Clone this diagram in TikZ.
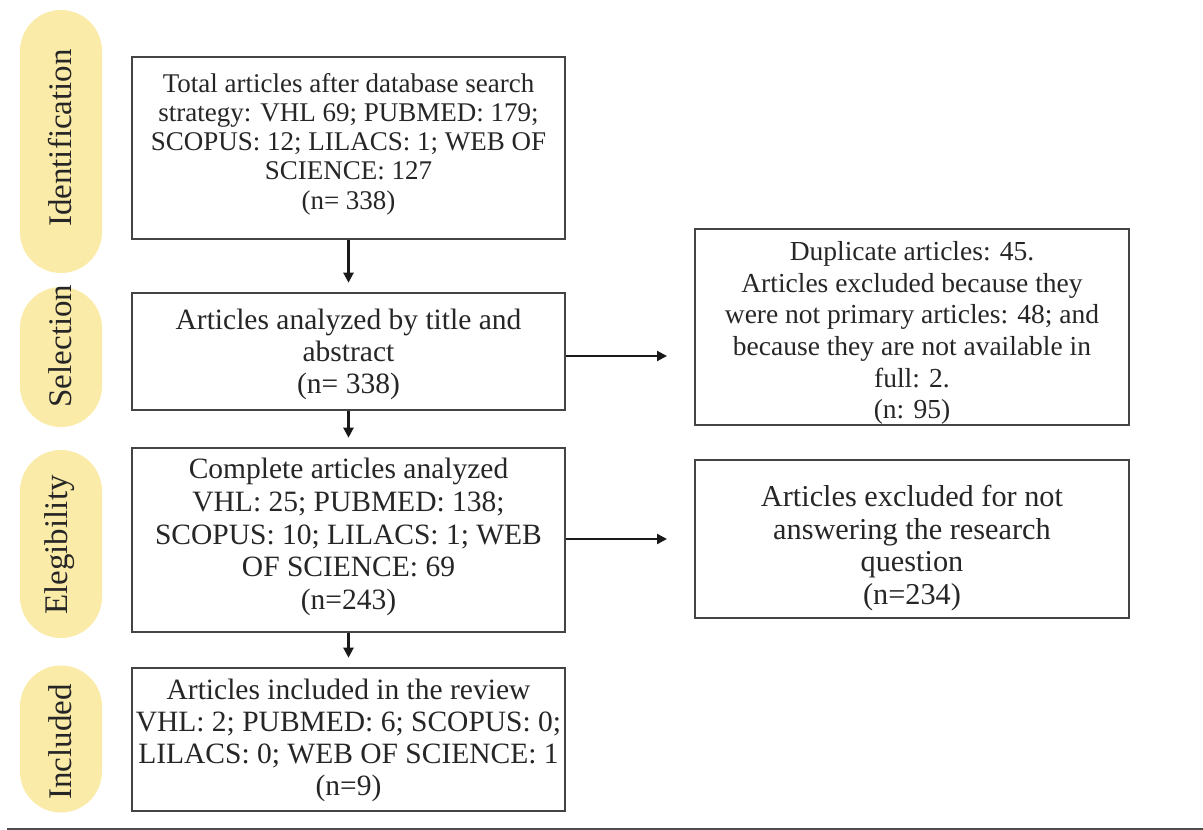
\documentclass[tikz,border=0pt]{standalone}
\usepackage{fontspec}
\setmainfont{Liberation Serif}
\usetikzlibrary{arrows.meta}
\definecolor{pillfill}{HTML}{FBEBA8}
\definecolor{txt}{HTML}{262626}
\definecolor{boxline}{HTML}{444444}
\tikzset{
  frame/.style={draw=boxline, line width=2.6pt, fill=white, rectangle, minimum width=433pt, inner sep=0pt},
  boxtext/.style={align=center, inner sep=0pt, text=txt, font=\fontsize{29.5}{31.8}\selectfont},
  pill/.style={fill=pillfill, rounded corners=41pt, minimum width=82pt, inner sep=0pt},
  pilltext/.style={rotate=90, text=txt, inner sep=0pt, font=\fontsize{33}{36}\selectfont},
  flow/.style={draw=black!90, line width=2.2pt, -{Triangle[length=10pt,width=10pt]}},
  downflow/.style={flow, shorten >=9pt},
}
\begin{document}
\begin{tikzpicture}[x=1pt,y=-1pt]
\useasboundingbox (0,0) rectangle (1203,830);
% stage pills
\node[pill, minimum height=263pt] (p1) at (61,141.5) {};
\node[pill, minimum height=140pt] (p2) at (61,357) {};
\node[pill, minimum height=188pt] (p3) at (61,544) {};
\node[pill, minimum height=147pt] (p4) at (61,739) {};
\node[pilltext] (l1) at (60,138) {Identification};
\node[pilltext] (l2) at (60,346) {Selection};
\node[pilltext] (l3) at (60,545) {Elegibility};
\node[pilltext] (l4) at (60,742) {Included};
% main boxes
\node[frame, minimum height=182pt] (b1) at (348.5,148) {};
\node[boxtext, font=\fontsize{27}{29.3}\selectfont] (t1) at ([yshift=4pt]b1.center) {Total articles after database search\\strategy: VHL 69; PUBMED: 179;\\SCOPUS: 12; LILACS: 1; WEB OF\\SCIENCE: 127\\(n= 338)};
\node[frame, minimum height=117pt] (b2) at (348.5,351.5) {};
\node[boxtext] (t2) at ([yshift=-3pt]b2.center) {Articles analyzed by title and\\abstract\\(n= 338)};
\node[frame, minimum height=184pt] (b3) at (348.5,540) {};
\node[boxtext, font=\fontsize{29.5}{32.8}\selectfont] (t3) at ([yshift=3pt]b3.center) {Complete articles analyzed\\VHL: 25; PUBMED: 138;\\SCOPUS: 10; LILACS: 1; WEB\\OF SCIENCE: 69\\(n=243)};
\node[frame, minimum height=143pt] (b4) at (348.5,739.5) {};
\node[boxtext] (t4) at ([yshift=-1pt]b4.center) {Articles included in the review\\VHL: 2; PUBMED: 6; SCOPUS: 0;\\LILACS: 0; WEB OF SCIENCE: 1\\(n=9)};
% side boxes
\node[frame, minimum width=434pt, minimum height=196pt] (r1) at (912,327) {};
\node[boxtext, font=\fontsize{27.5}{31.6}\selectfont] (t5) at ([yshift=-6pt]r1.center) {Duplicate articles: 45.\\Articles excluded because they\\were not primary articles: 48; and\\because they are not available in\\full: 2.\\(n: 95)};
\node[frame, minimum width=434pt, minimum height=158pt] (r2) at (912,539) {};
\node[boxtext, font=\fontsize{30.3}{32.7}\selectfont] (t6) at ([yshift=-9pt]r2.center) {Articles excluded for not\\answering the research\\question\\(n=234)};
% connectors
\coordinate (e1) at (667,356);
\coordinate (e2) at (667,539);
\draw[downflow] (b1.south) -- (b2.north);
\draw[downflow] (b2.south) -- (b3.north);
\draw[downflow] (b3.south) -- (b4.north);
\draw[flow] (b2.east |- e1) -- (e1);
\draw[flow] (b3.east |- e2) -- (e2);
% bottom rule
\coordinate (rl) at (7,829);
\coordinate (rr) at (1203,829);
\draw[draw=black!70, line width=3pt] (rl) -- (rr);
\end{tikzpicture}
\end{document}
